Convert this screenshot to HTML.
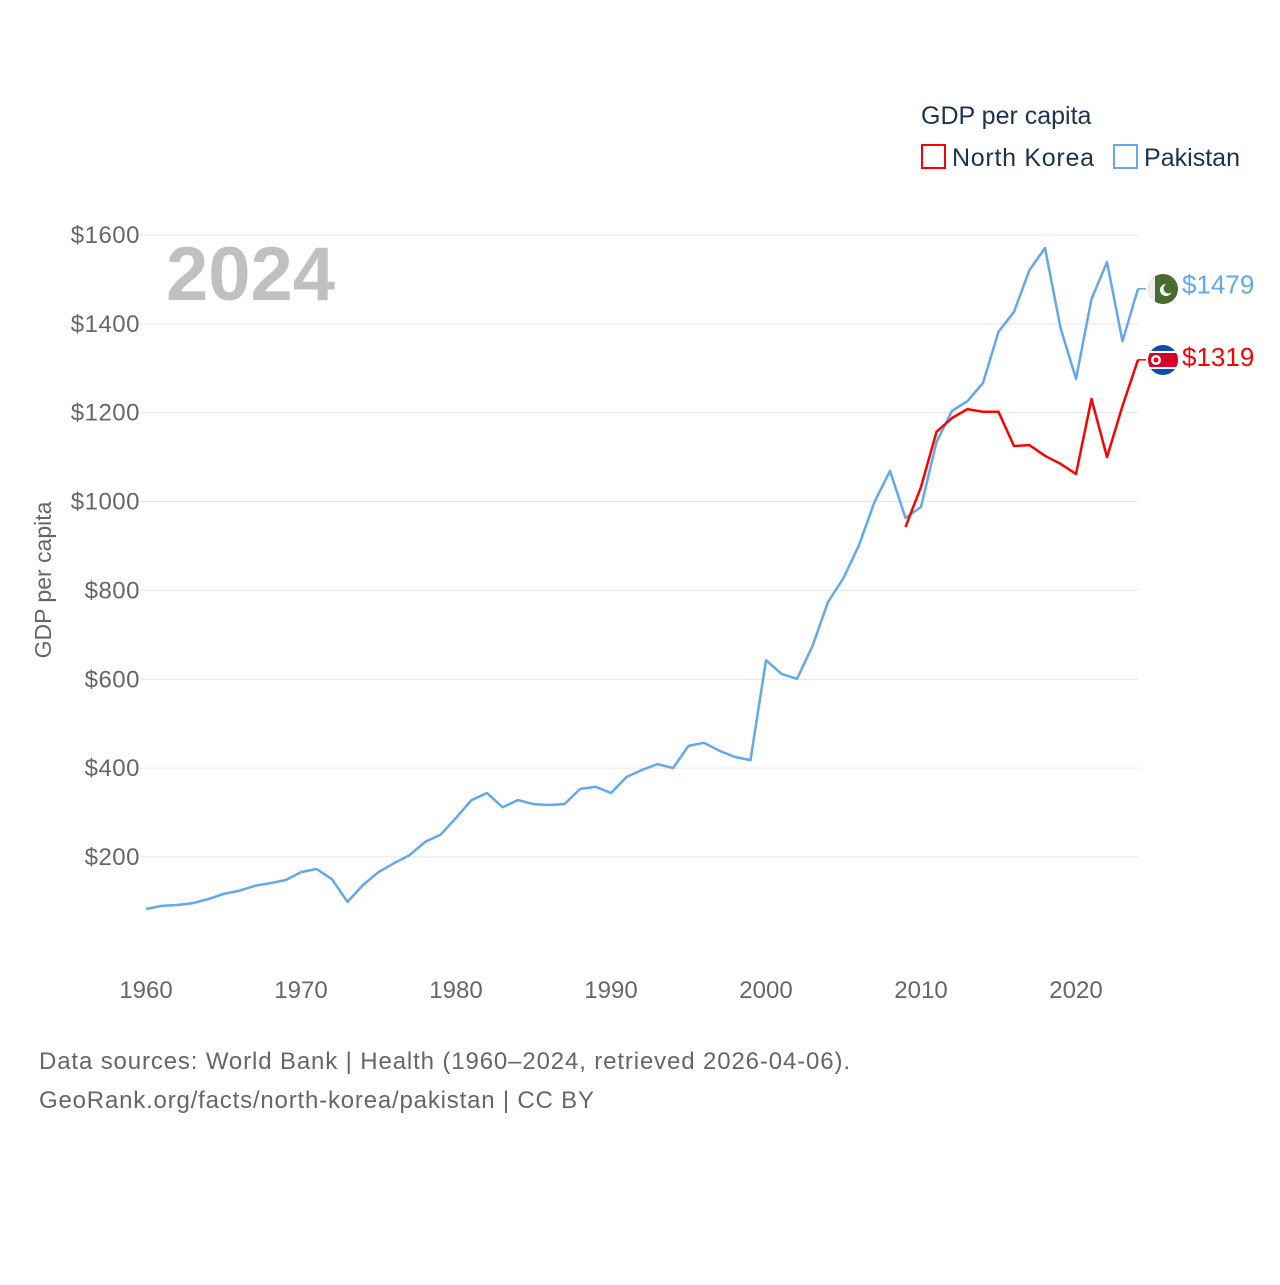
<!DOCTYPE html>
<html><head><meta charset="utf-8"><style>
html,body{margin:0;padding:0;background:#fff;}
svg text{font-family:"Liberation Sans",sans-serif;}
</style></head><body>
<svg width="1280" height="1280" viewBox="0 0 1280 1280" xmlns="http://www.w3.org/2000/svg">
<defs>
<clipPath id="cp1"><circle cx="1163" cy="289" r="15"/></clipPath>
<clipPath id="cp2"><circle cx="1163" cy="360" r="15"/></clipPath>
</defs>
<g id="grid"></g>
<g id="yticks"></g>
<g id="xticks"></g>
<text x="166" y="300" font-size="76" font-weight="bold" fill="#c0c0c0">2024</text>
<text transform="translate(51,580) rotate(-90)" text-anchor="middle" font-size="23" fill="#666">GDP per capita</text>
<g id="series"></g>
<g>
<text x="921" y="124" font-size="25" fill="#1d3150">GDP per capita</text>
<g><rect x="922" y="145" width="23" height="23" fill="none" stroke="#ff0000" stroke-width="2"/><text x="952" y="166" font-size="25" fill="#1d3150" textLength="142" lengthAdjust="spacing">North Korea</text></g>
<g><rect x="1114" y="145" width="23" height="23" fill="none" stroke="#62a8ea" stroke-width="2"/><text x="1144" y="166" font-size="25" fill="#1d3150" textLength="96" lengthAdjust="spacing">Pakistan</text></g>
</g>
<text x="39" y="1069" font-size="24" fill="#666" textLength="811" lengthAdjust="spacing">Data sources: World Bank | Health (1960–2024, retrieved 2026-04-06).</text>
<text x="39" y="1108" font-size="24" fill="#666" textLength="555" lengthAdjust="spacing">GeoRank.org/facts/north-korea/pakistan | CC BY</text>
</svg>
<script>
const yTicks=[200,400,600,800,1000,1200,1400,1600];
const xTicks=[1960,1970,1980,1990,2000,2010,2020];
const pkYears=[1960,1961,1962,1963,1964,1965,1966,1967,1968,1969,1970,1971,1972,1973,1974,1975,1976,1977,1978,1979,1980,1981,1982,1983,1984,1985,1986,1987,1988,1989,1990,1991,1992,1993,1994,1995,1996,1997,1998,1999,2000,2001,2002,2003,2004,2005,2006,2007,2008,2009,2010,2011,2012,2013,2014,2015,2016,2017,2018,2019,2020,2021,2022,2023,2024];
const pkValues=[83,90,92,96,105,117,124,135,141,148,166,173,150,99,137,166,186,204,234,250,288,328,344,312,328,319,317,319,353,358,344,380,396,409,400,450,457,439,425,418,643,612,601,675,774,828,902,999,1069,963,988,1134,1204,1226,1267,1382,1427,1521,1571,1391,1276,1456,1539,1361,1479];
const nkYears=[2009,2010,2011,2012,2013,2014,2015,2016,2017,2018,2019,2020,2021,2022,2023,2024];
const nkValues=[943,1033,1157,1188,1208,1202,1202,1125,1127,1103,1085,1062,1231,1100,1215,1319];
const NS="http://www.w3.org/2000/svg";
const X=yr=>146+(yr-1960)*15.5;
const Y=v=>857-(v-200)*0.4443;
function mk(tag,attrs,parent){const e=document.createElementNS(NS,tag);for(const k in attrs)e.setAttribute(k,attrs[k]);parent.appendChild(e);return e;}
const grid=document.getElementById('grid'),yt=document.getElementById('yticks'),xt=document.getElementById('xticks'),ser=document.getElementById('series');
yTicks.forEach(v=>{
 const l=mk('line',{x1:140,x2:1138,y1:Y(v),y2:Y(v),stroke:'#e6e6e6','stroke-width':1},grid);
 
 
 const t=mk('text',{x:140,y:Y(v)+8,'text-anchor':'end','font-size':24,fill:'#666','letter-spacing':0.5},yt);
 t.textContent='$'+v;
 
 
});
xTicks.forEach(yr=>{
 const t=mk('text',{x:X(yr),y:998,'text-anchor':'middle','font-size':24,fill:'#666'},xt);
 t.textContent=yr;
 
 
});
function line(ys,vs,color,name){
 const d=ys.map((y,i)=>(i?'L':'M')+X(y).toFixed(1)+','+Y(vs[i]).toFixed(1)).join(' ');
 const p=mk('path',{d:d,fill:'none',stroke:color,'stroke-width':2.5,'stroke-linejoin':'round'},ser);
 
 
 const lx=X(ys[ys.length-1]),ly=Y(vs[vs.length-1]);
 mk('line',{x1:lx,x2:lx+8,y1:ly,y2:ly,stroke:color,'stroke-width':1.5},ser);
 return [lx,ly];
}
const [px,py]=line(pkYears,pkValues,'#62a8ea','pakistan-line');
const [nx,ny]=line(nkYears,nkValues,'#ff0000','north-korea-line');
const pf=mk('g',{},ser);


mk('circle',{cx:1163,cy:289,r:15,fill:'#4a6b2e'},pf);
mk('rect',{x:1148,y:274,width:7,height:30,fill:'#eeeeee','clip-path':'url(#cp1)'},pf);
mk('circle',{cx:1166,cy:290,r:6,fill:'#fff'},pf);
mk('circle',{cx:1168.5,cy:288.5,r:5,fill:'#4a6b2e'},pf);
const pl=mk('text',{x:1182,y:py+5,'font-size':26,fill:'#62a8ea'},ser);
pl.textContent='$'+pkValues[pkValues.length-1];


const nf=mk('g',{},ser);


mk('rect',{x:1148,y:345,width:30,height:30,fill:'#0a4fb0','clip-path':'url(#cp2)'},nf);
mk('rect',{x:1148,y:351,width:30,height:18,fill:'#fff','clip-path':'url(#cp2)'},nf);
mk('rect',{x:1148,y:353,width:30,height:14,fill:'#d80027','clip-path':'url(#cp2)'},nf);
mk('circle',{cx:1156,cy:360,r:5,fill:'#fff'},nf);
mk('circle',{cx:1156,cy:360,r:2.5,fill:'#d80027'},nf);
const nl=mk('text',{x:1182,y:ny+6,'font-size':26,fill:'#ff0000'},ser);
nl.textContent='$'+nkValues[nkValues.length-1];


</script>
</body></html>
